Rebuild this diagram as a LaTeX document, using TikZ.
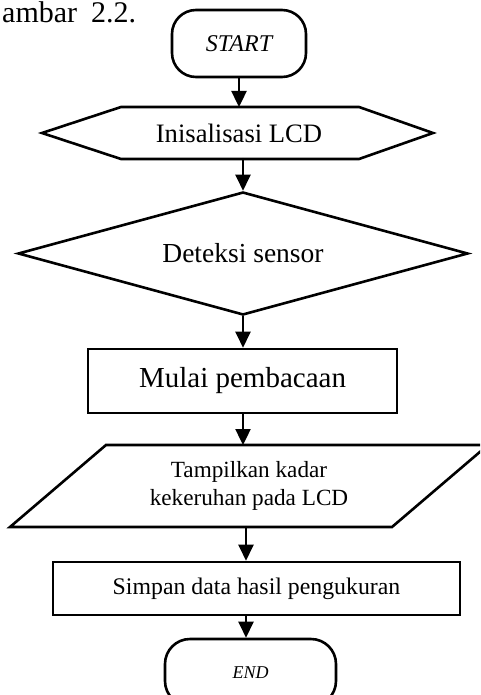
\documentclass[tikz,border=0pt]{standalone}
\usepackage{fontspec}
\setmainfont{Liberation Serif}
\usetikzlibrary{arrows.meta, shapes.geometric}

\begin{document}
\begin{tikzpicture}[x=1pt, y=-1pt, line cap=round,
    box/.style={draw, line width=2.6pt, rectangle, inner sep=0pt},
    term/.style={box, rounded corners=24pt},
    flow/.style={-{Triangle[length=16pt, width=15pt]}, line width=2.4pt},
    shp/.style={line width=2.6pt}]
                % page frame
                \useasboundingbox (0,0) rectangle (480,695);
                \clip (0,0) rectangle (480,695);
                % caption line, cut by the page edge
                \node[anchor=base west, inner sep=0pt, font=\fontsize{30}{35}\selectfont] (cap) at (2,22.5) {ambar\hspace{14pt}2.2.};
                % start terminal
                \node[term, minimum width=134pt, minimum height=67pt, font=\fontsize{24}{28}\selectfont\itshape] (start) at (239,43.5) {START};
                % preparation (hexagon)
                \node[font=\fontsize{26.6}{30}\selectfont] (init) at (239,133) {Inisalisasi LCD};
                \draw[shp] (42,133) -- (121,107) -- (359,107) -- (433,133) -- (359,159) -- (121,159) -- cycle;
                \coordinate (initT) at (239,107);
                \coordinate (initB) at (243,159);
                % decision
                \node[box, diamond, aspect=3.66, minimum width=450pt, minimum height=123pt, font=\fontsize{27.5}{31}\selectfont] (sensor) at (243,253.5) {Deteksi sensor};
                % process
                \node[box, minimum width=309pt, minimum height=64pt, font=\fontsize{29}{33}\selectfont] (read) at (242.5,381) {Mulai pembacaan};
                % output (parallelogram)
                \node[align=center, font=\fontsize{23.2}{28.5}\selectfont] (show) at (249,486) {Tampilkan kadar\\kekeruhan pada LCD};
                \draw[shp] (10,527) -- (106,445) -- (488,445) -- (392,527) -- cycle;
                \coordinate (showT) at (243,445);
                \coordinate (showB) at (246,527);
                % process
                \node[box, minimum width=407pt, minimum height=53pt, font=\fontsize{23.8}{28}\selectfont] (save) at (256.5,588.5) {Simpan data hasil pengukuran};
                % end terminal
                \node[term, rounded corners=25pt, minimum width=171pt, minimum height=67pt, font=\fontsize{18}{22}\selectfont\itshape] (stop) at (250.5,672.5) {END};
                % flow lines
                \draw[flow] (start.south) -- (initT);
                \draw[flow] (initB) -- (sensor.north);
                \draw[flow] (sensor.south) -- (sensor.south |- read.north);
                \draw[flow] (read.south -| showT) -- (showT);
                \draw[flow] (showB) -- (showB |- save.north);
                \draw[flow] (showB |- save.south) -- (showB |- stop.north);
        \end{tikzpicture}
\end{document}
